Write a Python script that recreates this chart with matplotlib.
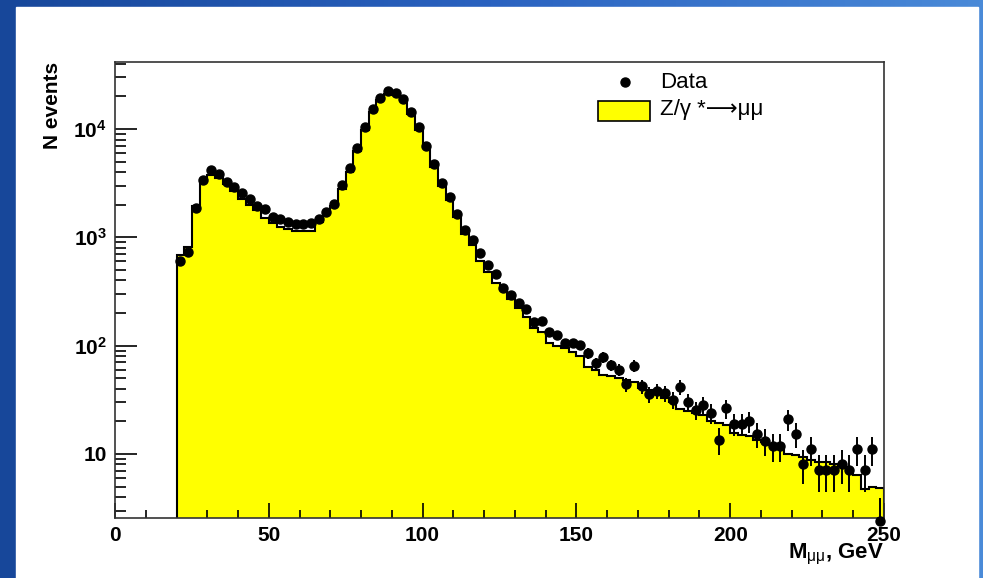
import numpy as np
import matplotlib.pyplot as plt
from matplotlib.patches import Rectangle
from matplotlib.colors import LinearSegmentedColormap
from matplotlib.ticker import MultipleLocator, LogLocator, NullFormatter

plt.rcParams['font.family'] = ['Liberation Sans', 'DejaVu Sans']
plt.rcParams['mathtext.fontset'] = 'custom'
plt.rcParams['mathtext.rm'] = 'Liberation Sans'
plt.rcParams['mathtext.it'] = 'Liberation Sans'
plt.rcParams['mathtext.bf'] = 'Liberation Sans:bold'

# 2.5 GeV bins from 20 to 250
edges = np.arange(20, 250.1, 2.5)
centers = edges[:-1] + 1.25

data = [608, 725, 1850, 3380, 4180, 3840, 3260, 2900, 2550, 2245,
        1945, 1815, 1550, 1466, 1394, 1327, 1327, 1365, 1466, 1722,
        2040, 3043, 4340, 6640, 10500, 15200, 19200, 22600, 21400, 18800,
        14300, 10370, 6970, 4750, 3190, 2340, 1640, 1166, 944, 711,
        555, 455, 338, 293, 249, 216, 166, 170, 134, 125,
        106, 106, 101, 85, 69, 78, 66, 60, 44, 65,
        42, 35.7, 38.4, 36.2, 31.5, 41.7, 30.3, 25.4, 28.3, 23.8,
        13.5, 26.3, 18.9, 18.9, 20.1, 15.3, 13.3, 11.8, 11.8, 21,
        15.2, 8.1, 11, 7.1, 7.1, 7.1, 8.1, 7.1, 11, 7.1,
        11, 2.4]

mc = [690, 820, 1950, 3250, 3800, 3550, 3100, 2700, 2260, 1990,
      1785, 1510, 1355, 1245, 1195, 1145, 1140, 1140, 1400, 1650,
      1950, 2800, 4000, 6300, 9900, 14500, 18500, 21000, 20500, 18000,
      13800, 9900, 6700, 4500, 3000, 2200, 1530, 1080, 850, 600,
      480, 380, 326, 270, 222, 185, 145, 135, 106, 100,
      95, 88, 80, 64, 60, 54, 52, 50, 48, 46,
      41, 39, 37, 33, 30, 26, 25, 24, 23, 20,
      19.5, 18.5, 15.5, 15, 14.5, 13.5, 13, 12, 11.6, 10,
      9.7, 9.4, 8.7, 8.5, 8.4, 8.1, 7.8, 7.2, 6.4, 4.7,
      5.0, 4.8]

data = np.array(data)
mc = np.array(mc)

fig = plt.figure(figsize=(9.83, 5.78), dpi=100)

# blue slide background with white panel
bg = fig.add_axes([0, 0, 1, 1], zorder=-10)
cmap = LinearSegmentedColormap.from_list('slide', ['#17479a', '#2a62c0', '#4a8ad8'])
bg.imshow(np.linspace(0, 1, 256).reshape(1, -1), aspect='auto', cmap=cmap, extent=[0, 1, 0, 1])
bg.add_patch(Rectangle((16 / 983, 0), (978 - 16) / 983, (578 - 7) / 578, color='white'))
bg.set_xlim(0, 1)
bg.set_ylim(0, 1)
bg.axis('off')

ax = fig.add_axes([0.117, 0.1038, 0.7823, 0.7889])

ax.stairs(mc, edges, baseline=1, fill=True, facecolor='#ffff00',
          edgecolor='black', linewidth=1.5)
ax.errorbar(centers, data, yerr=np.sqrt(data), fmt='none', ecolor='black',
            elinewidth=1.4, capsize=0, zorder=4)
ax.plot(centers, data, 'o', color='black', ms=6.5, clip_on=False, zorder=5)

ax.set_yscale('log')
ax.set_xlim(0, 250)
ax.set_ylim(2.56, 41600)

ax.xaxis.set_major_locator(MultipleLocator(50))
ax.xaxis.set_minor_locator(MultipleLocator(10))
ax.set_yticks([10, 100, 1000, 10000])
ax.set_yticklabels(['10', r'$\mathbf{10^{2}}$', r'$\mathbf{10^{3}}$', r'$\mathbf{10^{4}}$'])
ax.yaxis.set_minor_locator(LogLocator(base=10, subs=np.arange(2, 10)))
ax.yaxis.set_minor_formatter(NullFormatter())

ax.tick_params(which='both', direction='in', top=False, right=False, width=1.2)
ax.tick_params(axis='x', which='major', length=11, pad=6, labelsize=15)
ax.tick_params(axis='x', which='minor', length=5.5)
ax.tick_params(axis='y', which='major', length=16, pad=6, labelsize=15)
ax.tick_params(axis='y', which='minor', length=8)
for lab in ax.get_xticklabels() + ax.get_yticklabels():
    lab.set_fontweight('bold')
for sp in ax.spines.values():
    sp.set_linewidth(1.2)
    sp.set_color('#333333')

ax.set_xlabel(r'$\mathbf{M}_{\mu\mu}$, GeV', fontweight='bold', fontsize=16, loc='right')
ax.xaxis.set_label_coords(1.0, -0.052)
ax.set_ylabel('N events', fontweight='bold', fontsize=15, loc='top')
ax.yaxis.set_label_coords(-0.069, 1.0)

# legend
ax.plot([0.663], [0.956], 'o', color='black', ms=6.5, transform=ax.transAxes)
ax.add_patch(Rectangle((0.628, 0.8706), 0.0676, 0.0439, transform=ax.transAxes,
                       facecolor='#ffff00', edgecolor='black', linewidth=1.2))
ax.text(0.709, 0.956, 'Data', transform=ax.transAxes, va='center', fontsize=16)
ax.text(0.709, 0.895, 'Z/γ *⟶μμ', transform=ax.transAxes, va='center', fontsize=16)

fig.savefig('out.png', dpi=100)
